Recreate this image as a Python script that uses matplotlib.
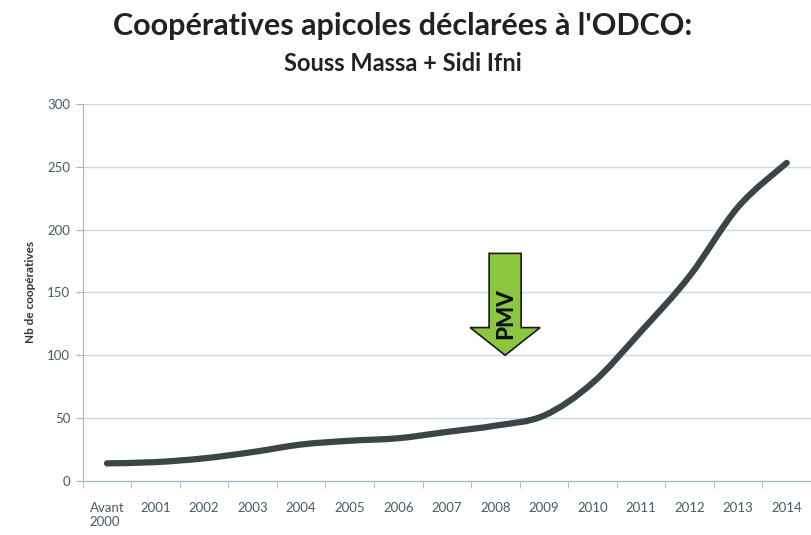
import numpy as np
import matplotlib.pyplot as plt
from matplotlib.path import Path
from matplotlib.patches import PathPatch, Polygon

# data
categories = ["Avant\n2000", "2001", "2002", "2003", "2004", "2005", "2006", "2007",
              "2008", "2009", "2010", "2011", "2012", "2013", "2014"]
nb_coop = [14, 15, 18, 23, 29, 32, 34, 39, 44, 52, 78, 119, 163, 218, 253]
y_ticks = [0, 50, 100, 150, 200, 250, 300]

FONT = "Lato"

fig = plt.figure(figsize=(8.11, 5.35), dpi=100)
ax = fig.add_axes([0.102, 0.101, 0.898, 0.705])

x = np.arange(len(categories))
y = np.array(nb_coop, dtype=float)

# smoothed line like Excel: Catmull-Rom -> cubic bezier segments
verts = [(x[0], y[0])]
codes = [Path.MOVETO]
n = len(x)
for i in range(n - 1):
    p0 = np.array([x[max(i - 1, 0)], y[max(i - 1, 0)]])
    p1 = np.array([x[i], y[i]])
    p2 = np.array([x[i + 1], y[i + 1]])
    p3 = np.array([x[min(i + 2, n - 1)], y[min(i + 2, n - 1)]])
    c1 = p1 + (p2 - p0) / 6.0
    c2 = p2 - (p3 - p1) / 6.0
    verts += [tuple(c1), tuple(c2), tuple(p2)]
    codes += [Path.CURVE4, Path.CURVE4, Path.CURVE4]
line = PathPatch(Path(verts, codes), facecolor="none", edgecolor="#3b4547",
                 lw=4.5, capstyle="round", joinstyle="round", zorder=3)
ax.add_patch(line)

ax.set_xlim(-0.5, len(categories) - 0.5)
ax.set_ylim(0, 300)
ax.set_yticks(y_ticks)
ax.set_xticks(x)
ax.set_xticklabels(categories, fontsize=9.5, color="#4a5a66", family=FONT)
for lab in ax.get_xticklabels():
    lab.set_multialignment("left")
ax.set_xticks(np.arange(len(categories) + 1) - 0.5, minor=True)
ax.tick_params(axis="x", which="major", length=0, pad=15)
ax.tick_params(axis="x", which="minor", length=5, color="#9fb8c8")
ax.tick_params(axis="y", length=5, color="#9fb8c8", labelsize=9.5, labelcolor="#4a5a66", pad=4)
for lab in ax.get_yticklabels():
    lab.set_family(FONT)

ax.grid(axis="y", color="#c9dbe6", lw=1)
ax.set_axisbelow(True)
for s in ["top", "right"]:
    ax.spines[s].set_visible(False)
for s in ["left", "bottom"]:
    ax.spines[s].set_color("#9fb8c8")

ax.set_ylabel("Nb de coopératives", fontsize=8.5, color="#333333", family=FONT,
              fontweight="bold", labelpad=8)

# PMV arrow
cx = 8.2
shaft_w, head_w = 0.33, 0.72
top, neck, tip = 181, 122, 100
arrow = Polygon([(cx - shaft_w, top), (cx + shaft_w, top), (cx + shaft_w, neck),
                 (cx + head_w, neck), (cx, tip), (cx - head_w, neck),
                 (cx - shaft_w, neck)], closed=True, facecolor="#8cc63e",
                edgecolor="#1a1a1a", lw=1.2, zorder=4)
ax.add_patch(arrow)
ax.text(cx + 0.02, 133, "PMV", rotation=90, ha="center", va="center",
        fontsize=16, fontweight="black", family=FONT, color="#111111", zorder=5)

fig.text(0.497, 0.952, "Coopératives apicoles déclarées à l'ODCO:", ha="center", va="center",
         fontsize=22, fontweight="bold", family=FONT, color="#222222")
fig.text(0.497, 0.882, "Souss Massa + Sidi Ifni", ha="center", va="center",
         fontsize=17, fontweight="bold", family=FONT, color="#222222")

fig.savefig("out.png", dpi=100)
